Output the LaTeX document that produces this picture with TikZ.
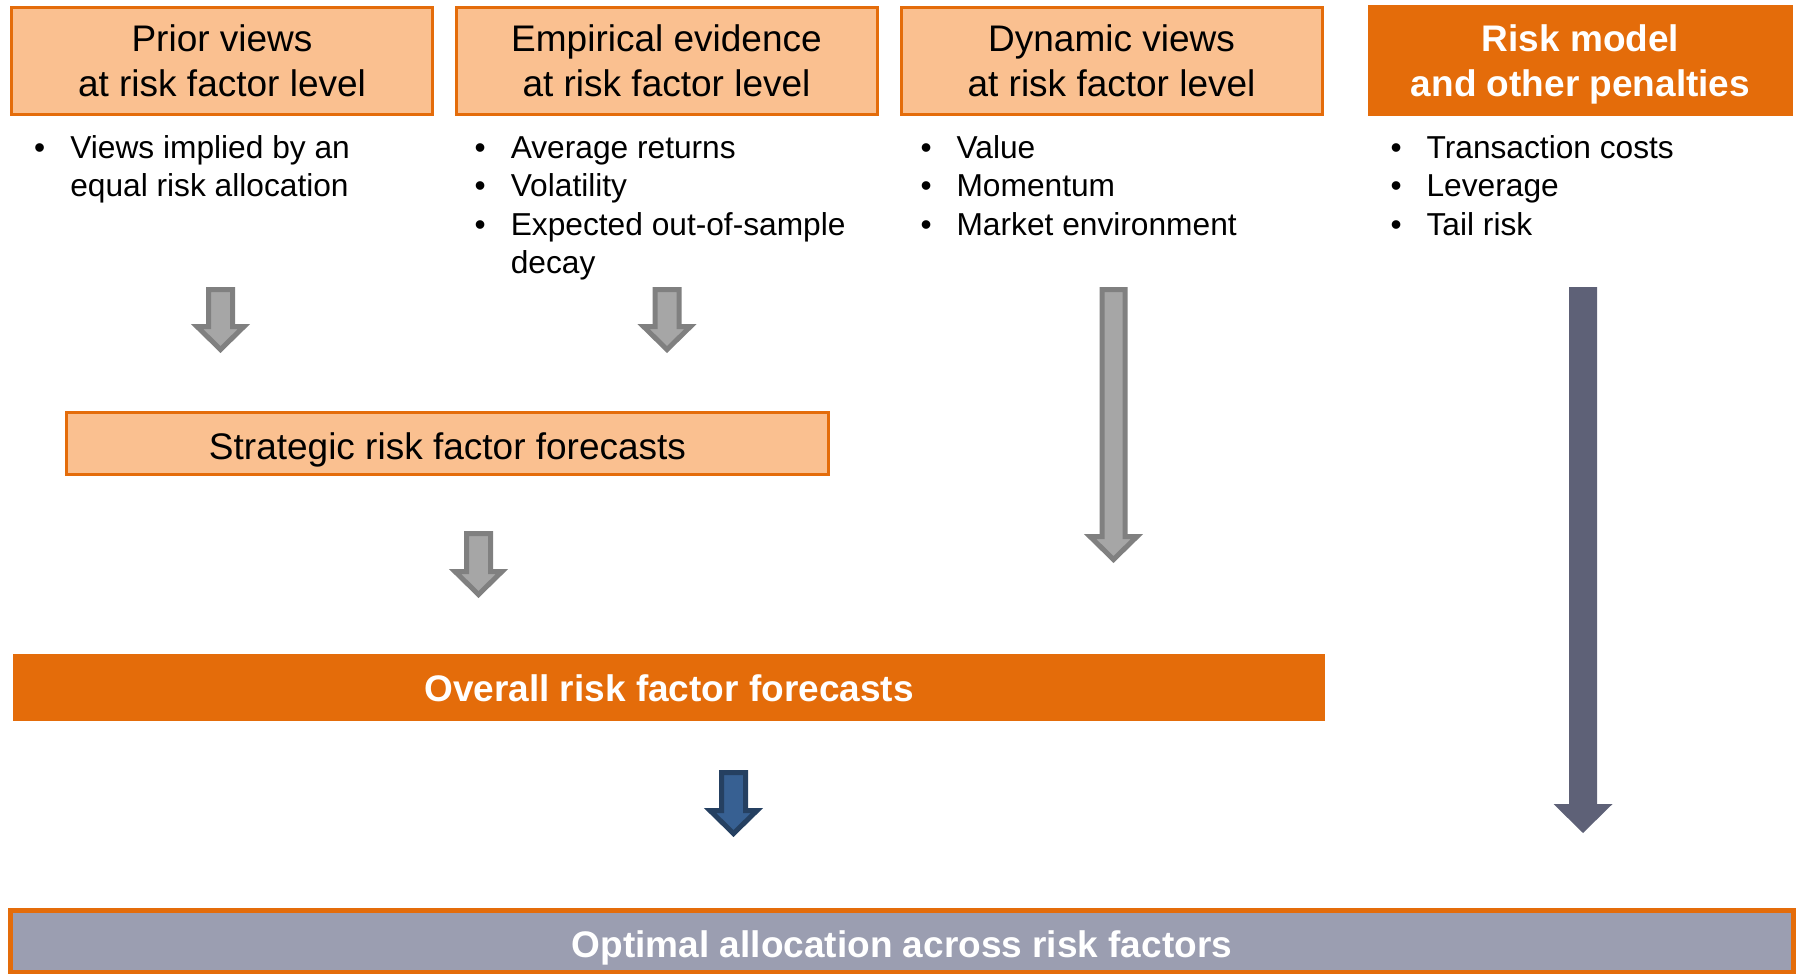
\documentclass[tikz,border=0pt]{standalone}
\usepackage{fontspec}
\setmainfont{Liberation Sans}
\usetikzlibrary{calc}
\definecolor{lorange}{HTML}{FAC090}
\definecolor{dorange}{HTML}{E46C0A}
\definecolor{agray}{HTML}{A6A6A6}
\definecolor{agrayd}{HTML}{808080}
\definecolor{ablue}{HTML}{376092}
\definecolor{ablued}{HTML}{254061}
\definecolor{slate}{HTML}{5E6177}
\definecolor{lav}{HTML}{9B9EB1}
% block arrow: #1 style, #2 start coord, #3 tip coord, #4 half shaft, #5 half head, #6 head length
\newcommand{\blkarrow}[6]{%
  \path[#1] ($(#2)+(-#4,0)$) -- ($(#2)+(#4,0)$) -- ($(#3)+(#4,-#6)$) -- ($(#3)+(#5,-#6)$)
    -- (#3) -- ($(#3)+(-#5,-#6)$) -- ($(#3)+(-#4,-#6)$) -- cycle;}
\begin{document}
\begin{tikzpicture}[x=1pt,y=-1pt,
  topbox/.style={draw=dorange, line width=3pt, fill=lorange, minimum width=421pt, minimum height=107pt,
    inner sep=0pt, text height=31.5pt, text depth=49.5pt, font=\fontsize{37}{45}\selectfont},
  darkbox/.style={fill=dorange, text=white, minimum width=425pt, minimum height=111pt,
    inner sep=0pt, text height=31.5pt, text depth=49.5pt, font=\bfseries\fontsize{37}{45}\selectfont},
  bul/.style={anchor=base west, inner sep=0pt, font=\fontsize{31.7}{38.3}\selectfont},
  graya/.style={fill=agray, draw=agrayd, line width=5pt, line join=miter},
  bluea/.style={fill=ablue, draw=ablued, line width=5pt, line join=miter},
  slatea/.style={fill=slate}]
\useasboundingbox (0,0) rectangle (1801,974);

% top boxes
\node[topbox] (b1) at (222,61) {\begin{tabular}[t]{@{}c@{}}Prior views\\at risk factor level\end{tabular}};
\node[topbox] (b2) at (666.5,61) {\begin{tabular}[t]{@{}c@{}}Empirical evidence\\at risk factor level\end{tabular}};
\node[topbox] (b3) at (1111.5,61) {\begin{tabular}[t]{@{}c@{}}Dynamic views\\at risk factor level\end{tabular}};
\node[darkbox] (b4) at (1580.5,60.5) {\begin{tabular}[t]{@{}c@{}}Risk model\\and other penalties\end{tabular}};

% bullet lists
\node[bul] (l1) at (34,158.5) {\begin{tabular}[t]{@{}l@{\hspace{25pt}}l@{}}\textbullet & Views implied by an\\ & equal risk allocation\end{tabular}};
\node[bul] (l2) at (474.5,158.5) {\begin{tabular}[t]{@{}l@{\hspace{25pt}}l@{}}\textbullet & Average returns\\\textbullet & Volatility\\\textbullet & Expected out-of-sample\\ & decay\end{tabular}};
\node[bul] (l3) at (920.3,158.5) {\begin{tabular}[t]{@{}l@{\hspace{25pt}}l@{}}\textbullet & Value\\\textbullet & Momentum\\\textbullet & Market environment\end{tabular}};
\node[bul] (l4) at (1390.3,158.5) {\begin{tabular}[t]{@{}l@{\hspace{25pt}}l@{}}\textbullet & Transaction costs\\\textbullet & Leverage\\\textbullet & Tail risk\end{tabular}};

% strategic box
\node[draw=dorange, line width=3pt, fill=lorange, minimum width=762pt, minimum height=62pt, inner sep=0pt,
  text height=31pt, text depth=0pt, font=\fontsize{37}{45}\selectfont] (strat) at (447.5,443.5) {Strategic risk factor forecasts};

% overall bar
\node[fill=dorange, text=white, minimum width=1312pt, minimum height=67pt, inner sep=0pt,
  text height=29pt, text depth=0pt, font=\bfseries\fontsize{37}{45}\selectfont] (overall) at (669,687) {Overall risk factor forecasts};

% bottom bar
\node[draw=dorange, line width=5pt, fill=lav, text=white, minimum width=1783pt, minimum height=62pt, inner sep=0pt,
  text height=31pt, text depth=0pt, font=\bfseries\fontsize{37}{45}\selectfont] (optimal) at (902,941.5) {Optimal allocation across risk factors};

% arrow endpoints
\coordinate (a1s) at (220.5,289.5); \coordinate (a1e) at (220.5,349.5);
\coordinate (a2s) at (667,289.5);   \coordinate (a2e) at (667,349.5);
\coordinate (a3s) at (478.5,533.5); \coordinate (a3e) at (478.5,594.5);
\coordinate (a4s) at (1113.5,289.5); \coordinate (a4e) at (1113.5,559.5);
\coordinate (a5s) at (733.5,772.5); \coordinate (a5e) at (733.5,833.5);
\coordinate (a6s) at (1583,287);    \coordinate (a6e) at (1583,833);

\blkarrow{graya}{a1s}{a1e}{12}{23.5}{23}
\blkarrow{graya}{a2s}{a2e}{12}{23.5}{23}
\blkarrow{graya}{a3s}{a3e}{12}{23.5}{23}
\blkarrow{graya}{a4s}{a4e}{11.5}{23.5}{23}
\blkarrow{bluea}{a5s}{a5e}{12}{23.5}{23}
\blkarrow{slatea}{a6s}{a6e}{14}{29.5}{29}
\end{tikzpicture}
\end{document}
